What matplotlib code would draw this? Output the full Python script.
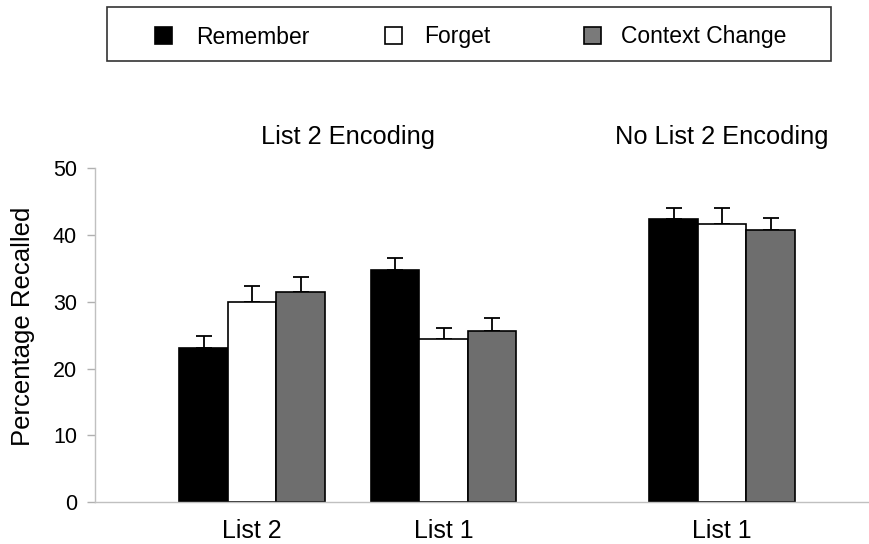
import matplotlib.pyplot as plt
import numpy as np
from matplotlib.patches import Rectangle

plt.rcParams['font.family'] = ['Liberation Sans', 'DejaVu Sans']

# Data
groups = ["List 2", "List 1", "List 1"]
conditions = ["Remember", "Forget", "Context Change"]
remember = [23.0, 34.75, 42.4]
forget = [29.9, 24.4, 41.65]
context = [31.4, 25.6, 40.7]
remember_err = [1.9, 1.85, 1.6]
forget_err = [2.4, 1.65, 2.35]
context_err = [2.35, 1.9, 1.9]
panel_titles = ["List 2 Encoding", "No List 2 Encoding"]

colors = ["#000000", "#ffffff", "#6e6e6e"]
centers = np.array([0.0, 3.95, 9.69])
width = 1.0

fig = plt.figure(figsize=(8.7, 5.44), dpi=100)
ax = fig.add_axes([95 / 870, 1 - 502 / 544, 1 - 95 / 870, (502 - 168.3) / 544])

series = [remember, forget, context]
errs = [remember_err, forget_err, context_err]
for i, (vals, err) in enumerate(zip(series, errs)):
    xs = centers + (i - 1) * width
    ax.bar(xs, vals, width=width, color=colors[i], edgecolor='black', linewidth=1.2, zorder=2)
    ax.errorbar(xs, vals, yerr=[np.zeros(len(vals)), err], fmt='none', ecolor='black',
                elinewidth=1.3, capsize=5.5, capthick=1.3, zorder=1)

ax.set_xlim(-3.24, 12.74)
ax.set_ylim(0, 50)
ax.set_yticks([0, 10, 20, 30, 40, 50])
ax.set_xticks(centers)
ax.set_xticklabels(groups, fontsize=18)
ax.tick_params(axis='x', length=0, pad=12)
ax.tick_params(axis='y', length=6, width=1, color='#b0b0b0', labelsize=15.5, pad=7)
ax.set_ylabel("Percentage Recalled", fontsize=18.5)
ax.yaxis.set_label_coords(-0.078, 0.526)
for s in ['top', 'right']:
    ax.spines[s].set_visible(False)
for s in ['left', 'bottom']:
    ax.spines[s].set_color('#c0c0c0')
    ax.spines[s].set_linewidth(1)

# panel titles
fig.text(348 / 870, 1 - 144 / 544, panel_titles[0], ha='center', va='baseline', fontsize=18.3)
fig.text(722 / 870, 1 - 144 / 544, panel_titles[1], ha='center', va='baseline', fontsize=18.3)

# legend box
fig.patches.append(Rectangle((107 / 870, 1 - 61 / 544), (831 - 107) / 870, 54 / 544,
                             transform=fig.transFigure, fill=False, edgecolor='#333333', linewidth=1.2))
square_x = [155, 385, 584]
text_x = [196, 424, 621]
for i, name in enumerate(conditions):
    fig.patches.append(Rectangle((square_x[i] / 870, 1 - 43.5 / 544), 17 / 870, 17 / 544,
                                 transform=fig.transFigure, facecolor=colors[i] if i != 2 else '#7a7a7a',
                                 edgecolor='black', linewidth=1.2))
    fig.text(text_x[i] / 870, 1 - 43.5 / 544, name, ha='left', va='baseline', fontsize=16.5)

fig.savefig("out.png", dpi=100)
